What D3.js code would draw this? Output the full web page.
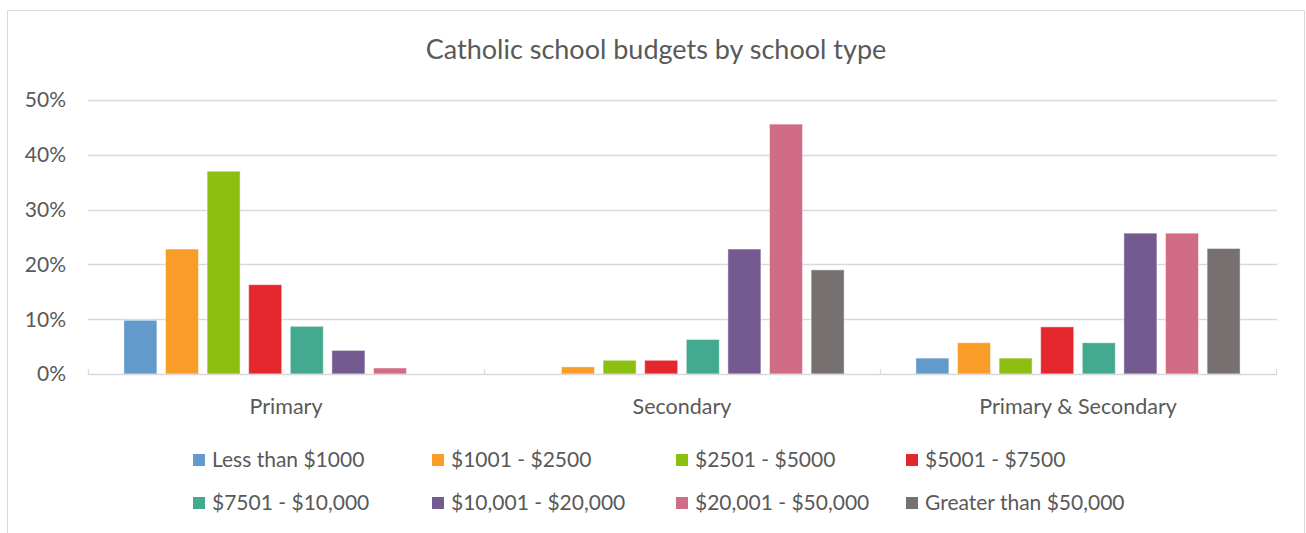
<!DOCTYPE html>
<html>
<head>
<meta charset="utf-8">
<script src="https://cdn.jsdelivr.net/npm/d3@7"></script>
<style>
  body { margin: 0; background: #fff; }
  text { font-family: Lato, "Open Sans", sans-serif; fill: #595959; }
</style>
</head>
<body>
<svg id="chart" width="1306" height="533"></svg>
<script>

let categories = ["Primary", "Secondary", "Primary & Secondary"];
let series = ["Less than $1000", "$1001 - $2500", "$2501 - $5000", "$5001 - $7500",
              "$7501 - $10,000", "$10,001 - $20,000", "$20,001 - $50,000", "Greater than $50,000"];
let colors = ["#619acb", "#f99d28", "#8dbf13", "#e4262d", "#43a98f", "#735a8f", "#d06c85", "#767170"];

// percent of schools in each budget band, per school type
let primaryValues = [9.8, 22.8, 37.0, 16.3, 8.7, 4.3, 1.1, 0];
let secondaryValues = [0, 1.3, 2.5, 2.5, 6.3, 22.8, 45.6, 19.0];
let bothValues = [2.9, 5.7, 2.9, 8.6, 5.7, 25.7, 25.7, 22.9];

let yTicks = [0, 10, 20, 30, 40, 50];

let allValues = [primaryValues, secondaryValues, bothValues];
let data = categories.map((c, i) => ({
    category: c,
    values: series.map((s, j) => ({key: s, value: allValues[i][j], color: colors[j]}))
}));

let svg = d3.select("#chart");

// chart frame
svg.append("rect")
    .attr("x", 7.5).attr("y", 10.5)
    .attr("width", 1297).attr("height", 540)
    .attr("fill", "#fff")
    .attr("stroke", "#d9d9d9")
    .attr("stroke-width", 1);

let x0 = d3.scaleBand()
    .domain(categories)
    .range([88, 1276]);

let x1 = d3.scaleBand()
    .domain(series)
    .range([0, x0.bandwidth()])
    .paddingInner(0.207)
    .paddingOuter(0.863);

let y = d3.scaleLinear()
    .domain([0, 50])
    .range([374, 100]);

// gridlines
svg.append("g")
    .selectAll("line")
    .data(yTicks.filter(d => d > 0))
    .join("line")
        .attr("x1", 88).attr("x2", 1277)
        .attr("y1", d => Math.round(y(d)) + 0.5)
        .attr("y2", d => Math.round(y(d)) + 0.5)
        .attr("stroke", "#d9d9d9")
        .attr("stroke-width", 1.3);

// y labels
svg.append("g")
    .selectAll("text")
    .data(yTicks)
    .join("text")
        .attr("x", 66)
        .attr("y", d => y(d))
        .attr("dy", "0.35em")
        .attr("text-anchor", "end")
        .attr("font-size", 21)
        .text(d => d + "%");

// bars
let groups = svg.append("g")
    .selectAll("g")
    .data(data)
    .join("g")
        .attr("transform", d => `translate(${x0(d.category)},0)`);

groups.selectAll("rect")
    .data(d => d.values.filter(v => v.value > 0))
    .join("rect")
        .attr("x", d => x1(d.key))
        .attr("y", d => y(d.value))
        .attr("width", x1.bandwidth())
        .attr("height", d => y(0) - y(d.value))
        .attr("fill", d => d.color)
        .attr("stroke", "#ffffff")
        .attr("stroke-opacity", 0.45)
        .attr("stroke-width", 1);

// x axis line and category ticks
let axis = svg.append("g");
axis.append("line")
    .attr("x1", 88).attr("x2", 1277)
    .attr("y1", 374.5).attr("y2", 374.5)
    .attr("stroke", "#d9d9d9")
    .attr("stroke-width", 1.3);
axis.selectAll(".tick")
    .data(categories.concat([null]))
    .join("line")
        .attr("class", "tick")
        .attr("x1", (d, i) => 88 + i * x0.step() + 0.5)
        .attr("x2", (d, i) => 88 + i * x0.step() + 0.5)
        .attr("y1", 369).attr("y2", 375)
        .attr("stroke", "#d9d9d9")
        .attr("stroke-width", 1.3);

axis.selectAll(".cat")
    .data(categories)
    .join("text")
        .attr("class", "cat")
        .attr("x", d => x0(d) + x0.bandwidth() / 2)
        .attr("y", 406)
        .attr("dy", "0.35em")
        .attr("text-anchor", "middle")
        .attr("font-size", 21.5)
        .text(d => d);

// title
svg.append("text")
    .attr("x", 656)
    .attr("y", 50)
    .attr("dy", "0.35em")
    .attr("text-anchor", "middle")
    .attr("font-size", 27)
    .text("Catholic school budgets by school type");

// legend, 4 columns x 2 rows
let legendCols = [193, 432, 676, 906];
let legend = svg.append("g")
    .selectAll("g")
    .data(series)
    .join("g")
        .attr("transform", (d, i) => `translate(${legendCols[i % 4]},${i < 4 ? 460 : 503})`);

legend.append("rect")
    .attr("x", 0).attr("y", -6)
    .attr("width", 12).attr("height", 12)
    .attr("fill", (d, i) => colors[i]);

legend.append("text")
    .attr("x", 19)
    .attr("y", 0)
    .attr("dy", "0.35em")
    .attr("font-size", 21)
    .text(d => d);

</script>
</body>
</html>
